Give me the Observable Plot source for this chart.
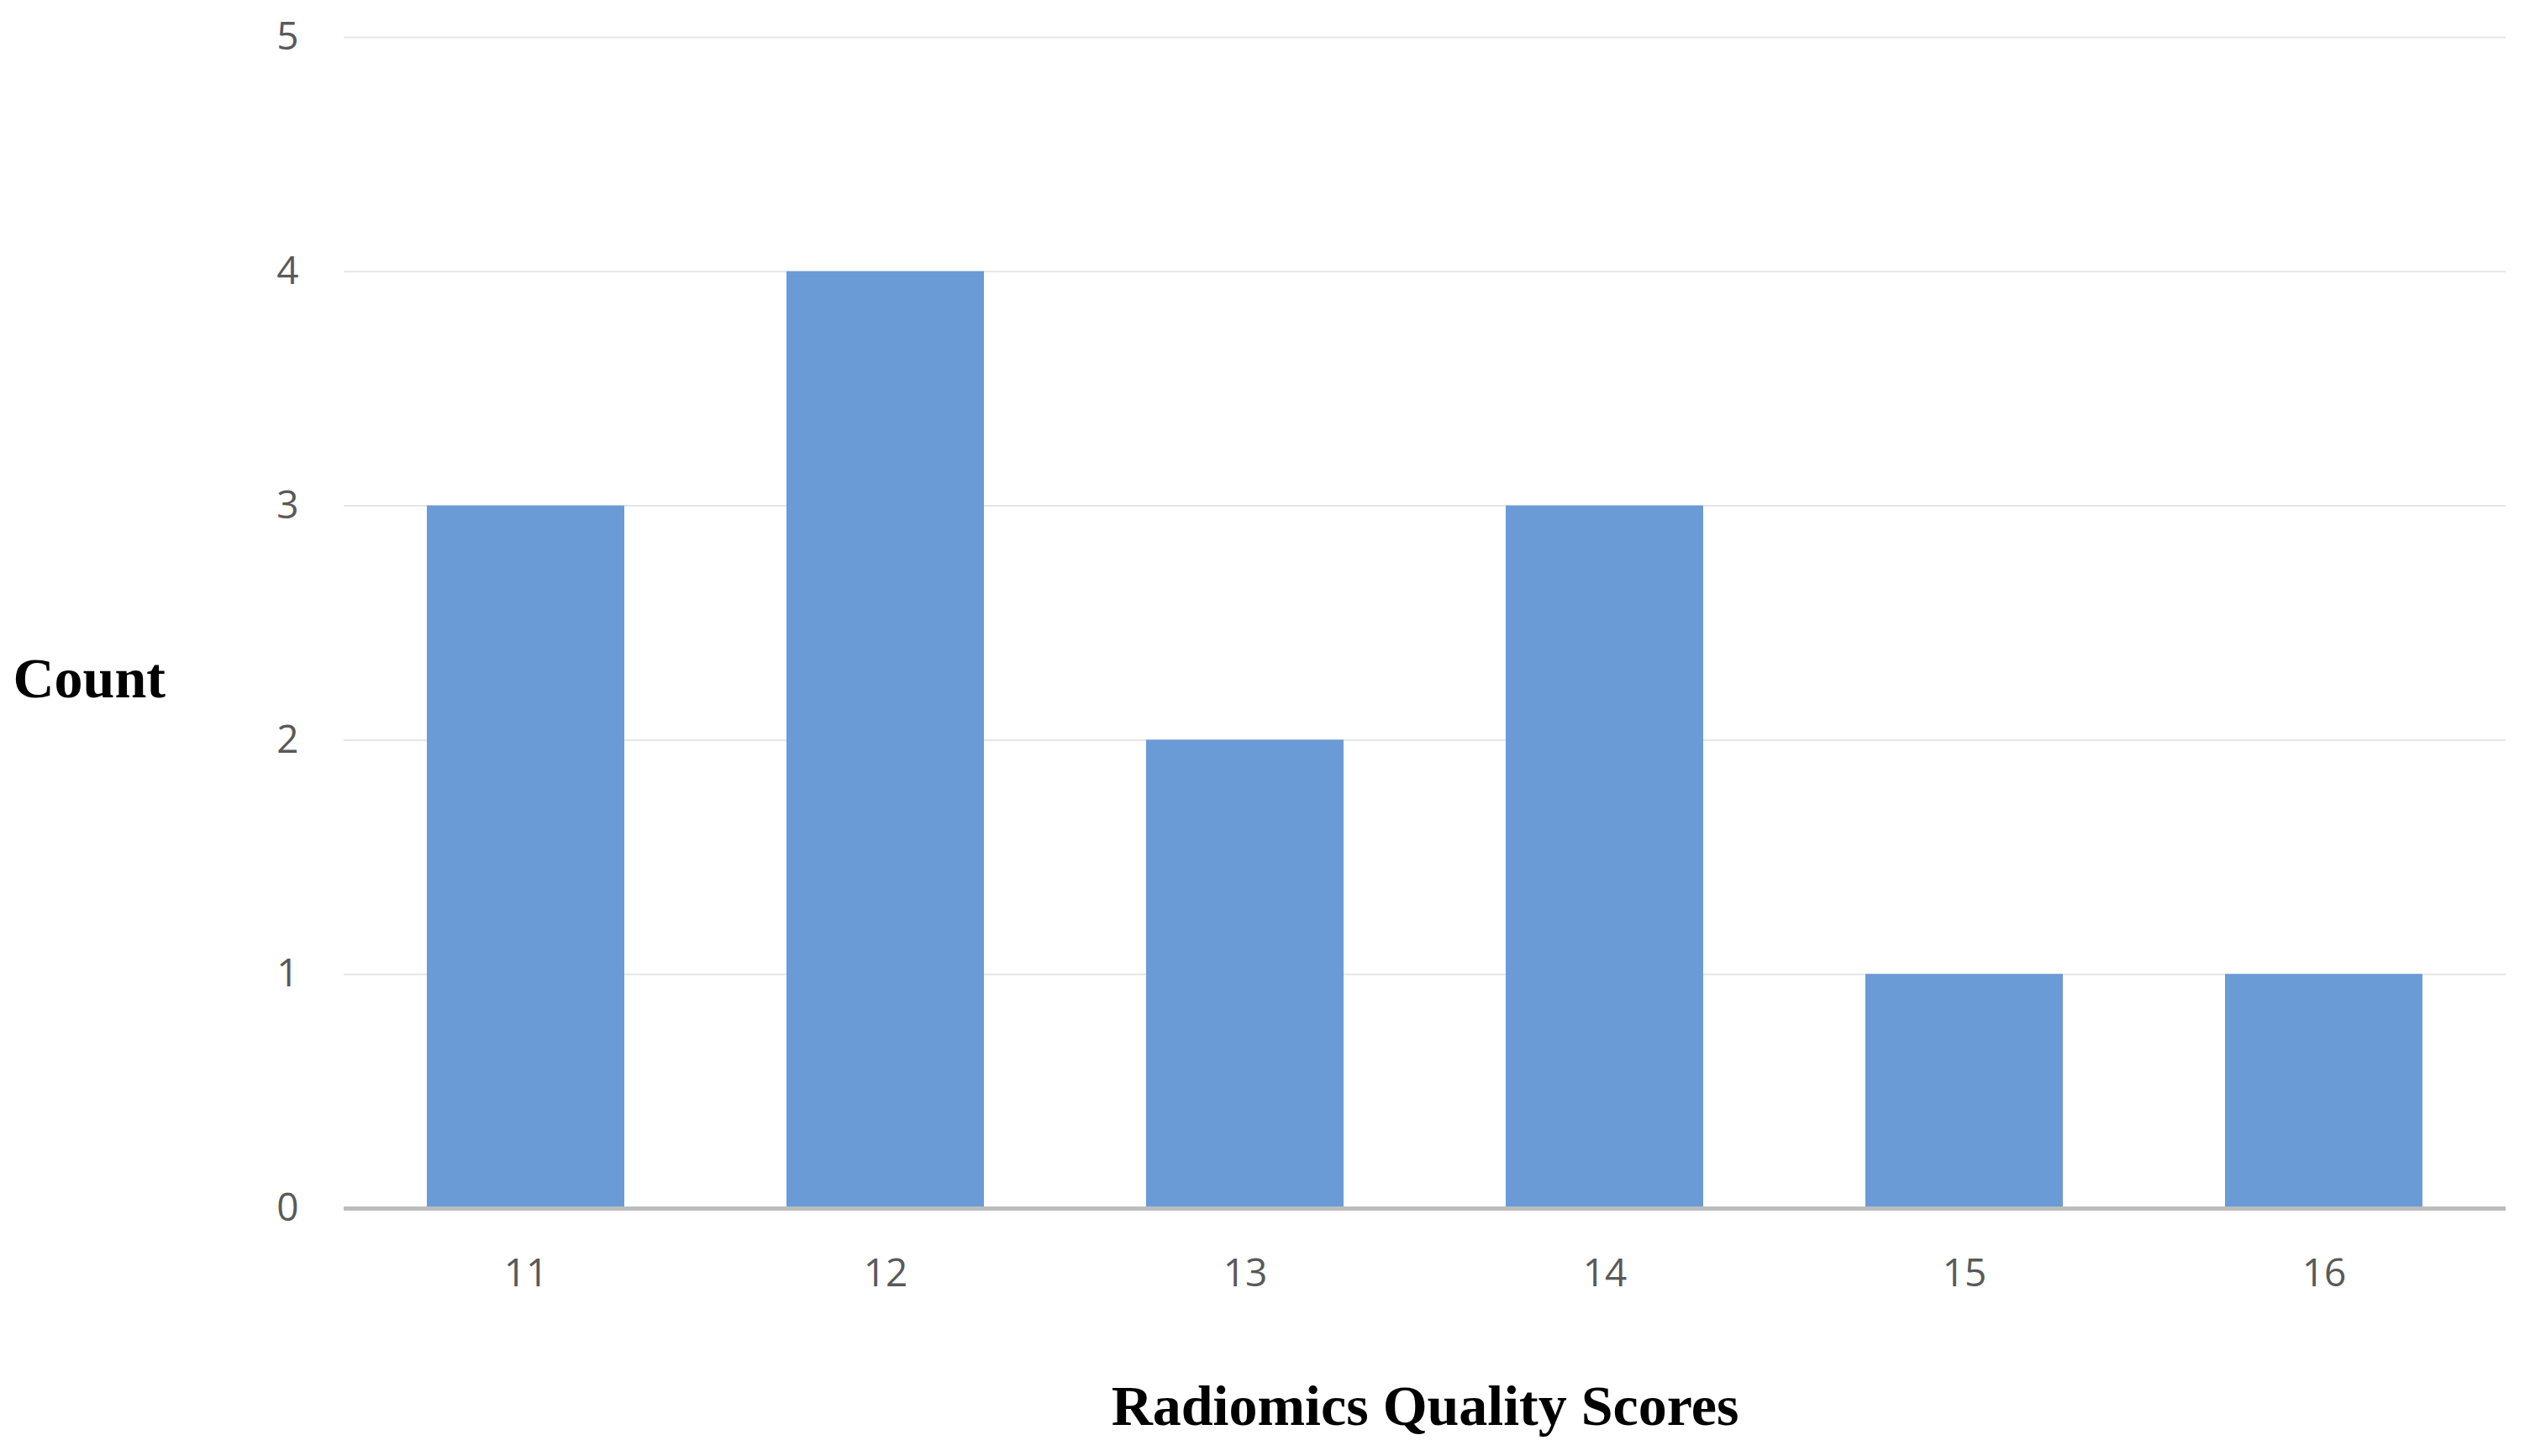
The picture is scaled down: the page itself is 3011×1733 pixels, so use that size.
<!DOCTYPE html>
<html>
<head>
<meta charset="utf-8">
<script src="https://cdn.jsdelivr.net/npm/d3@7"></script>
<script src="https://cdn.jsdelivr.net/npm/@observablehq/plot@0.6"></script>
<style>
  html, body { margin: 0; padding: 0; background: #fff; }
</style>
</head>
<body>
<div id="chart"></div>
<script>
const scores = ["11", "12", "13", "14", "15", "16"];
const counts = [3, 4, 2, 3, 1, 1];
const yTicks = [0, 1, 2, 3, 4, 5];
const xTitle = "Radiomics Quality Scores";
const yTitle = "Count";

const data = scores.map((s, i) => ({score: s, count: counts[i]}));

const chart = Plot.plot({
  width: 3011,
  height: 1733,
  marginLeft: 409,
  marginRight: 29,
  marginTop: 44,
  marginBottom: 295,
  style: {fontFamily: "'Open Sans', sans-serif", background: "#fff"},
  x: {domain: scores, paddingInner: 0.45, paddingOuter: 0.225, label: null},
  y: {domain: [0, 5], label: null},
  marks: [
    Plot.gridY(yTicks, {stroke: "#e6e6e6", strokeOpacity: 1, strokeWidth: 2}),
    Plot.barY(data, {x: "score", y: "count", fill: "#6a9bd6"}),
    Plot.ruleY([0], {stroke: "#bcbcbc", strokeWidth: 5}),
    Plot.axisY({ticks: yTicks, tickFormat: d => String(d), tickSize: 0, tickPadding: 54, fontSize: 46, fill: "#595959", label: null}),
    Plot.axisX({tickSize: 0, tickPadding: 60, fontSize: 46, fill: "#595959", label: null}),
    Plot.text([yTitle], {frameAnchor: "left", dx: -394, dy: 67, fontSize: 68, fontWeight: "bold", fontFamily: "'Liberation Serif', serif", fill: "#000", textAnchor: "start"}),
    Plot.text([xTitle], {frameAnchor: "bottom", dy: 257, fontSize: 68, fontWeight: "bold", fontFamily: "'Liberation Serif', serif", fill: "#000"})
  ]
});
document.getElementById("chart").appendChild(chart);
</script>
</body>
</html>
